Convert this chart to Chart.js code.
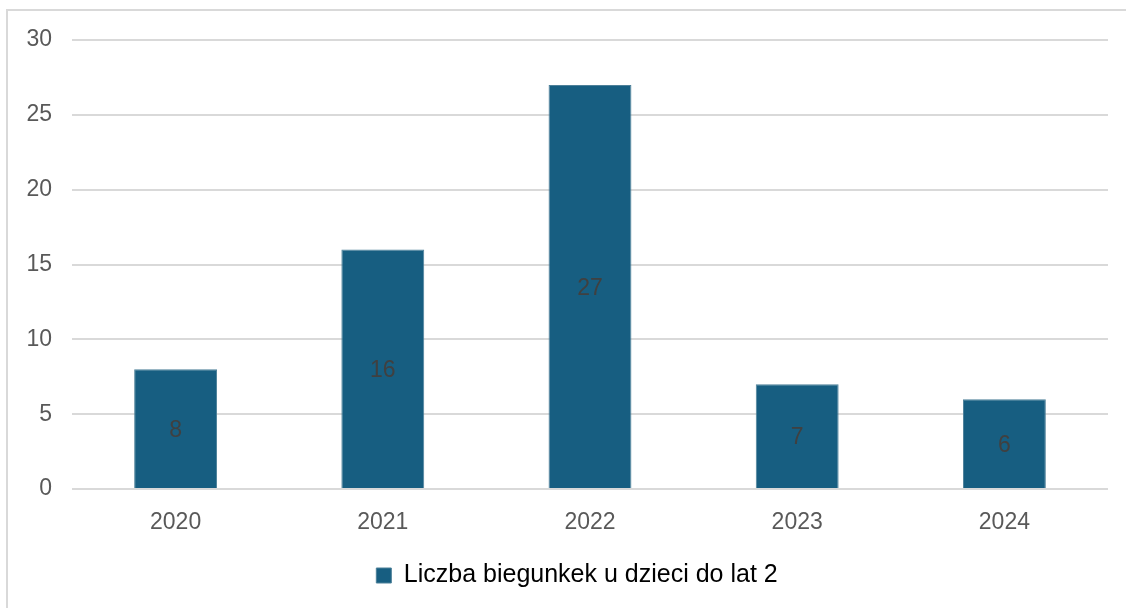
<!DOCTYPE html>
<html>
<head>
<meta charset="utf-8">
<script src="https://cdn.jsdelivr.net/npm/chart.js@4/dist/chart.umd.min.js"></script>
<style>
  html, body { margin: 0; padding: 0; background: #fff; }
  #wrap { position: relative; width: 1126px; height: 608px; overflow: hidden; }
  #frame { position: absolute; left: 6px; top: 9px; width: 1200px; height: 700px;
           border-left: 2px solid #d9d9d9; border-top: 2px solid #d9d9d9; }
  canvas { position: absolute; left: 0; top: 0; }
</style>
</head>
<body>
<div id="wrap">
  <div id="frame"></div>
  <canvas id="myChart" width="1126" height="608"></canvas>
</div>
<script>
const years = ['2020', '2021', '2022', '2023', '2024'];
const cases = [8, 16, 27, 7, 6];
const yTicks = [0, 5, 10, 15, 20, 25, 30];
const seriesName = 'Liczba biegunkek u dzieci do lat 2';

const FONT = '"Liberation Sans", Arial, sans-serif';

// draws the value in the middle of each bar
const barValues = {
  id: 'barValues',
  afterLayout(chart) {
    // legend sits a bit right of centre in the original
    chart.legend.left += 23;
    chart.legend.right += 23;
  },
  afterDatasetsDraw(chart) {
    const ctx = chart.ctx;
    ctx.save();
    ctx.font = '23px ' + FONT;
    ctx.fillStyle = '#404040';
    ctx.textAlign = 'center';
    ctx.textBaseline = 'middle';
    chart.getDatasetMeta(0).data.forEach((bar, i) => {
      ctx.fillText(cases[i], bar.x, (bar.y + bar.base) / 2 + 2);
    });
    ctx.restore();
  }
};

const ctx = document.getElementById('myChart').getContext('2d');
new Chart(ctx, {
  type: 'bar',
  data: {
    labels: years,
    datasets: [{
      label: seriesName,
      data: cases,
      backgroundColor: '#175e81',
      borderColor: '#4d8099',
      borderWidth: 1,
      barPercentage: 0.4,
      categoryPercentage: 1.0
    }]
  },
  options: {
    responsive: false,
    animation: false,
    layout: { padding: { top: 40, right: 18, bottom: 10, left: 0 } },
    plugins: {
      tooltip: { enabled: false },
      legend: {
        position: 'bottom',
        labels: {
          boxWidth: 15,
          boxHeight: 15,
          padding: 10,
          color: '#000000',
          font: { size: 25, family: FONT }
        }
      }
    },
    scales: {
      x: {
        grid: { display: false },
        border: { display: false },
        ticks: {
          color: '#595959',
          padding: 12,
          font: { size: 23, family: FONT }
        },
        afterFit(scale) { scale.height = 64; }
      },
      y: {
        min: 0,
        max: 30,
        grid: { color: '#d9d9d9', lineWidth: 2, drawTicks: false },
        border: { display: false },
        afterBuildTicks(scale) { scale.ticks = yTicks.map(v => ({ value: v })); },
        ticks: {
          color: '#595959',
          padding: 20,
          font: { size: 23, family: FONT }
        },
        afterFit(scale) { scale.width = 72; }
      }
    }
  },
  plugins: [barValues]
});
</script>
</body>
</html>
